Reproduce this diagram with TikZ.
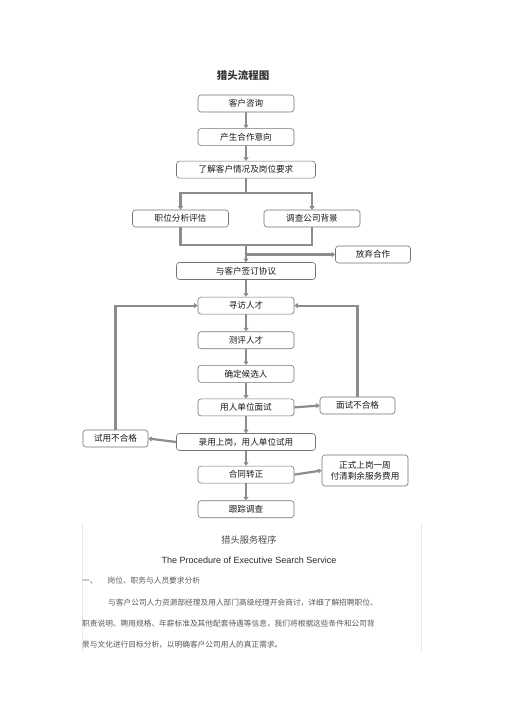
\documentclass[tikz,border=0pt]{standalone}
\usepackage{fontspec}
\setmainfont{Liberation Sans}
\newfontfamily\cjk{Noto Sans CJK SC}
\usepackage{tikz}
\usetikzlibrary{arrows.meta,positioning}

\begin{document}
\begin{tikzpicture}[
  x=1pt, y=-1pt,
  font=\cjk\fontsize{8.6}{10.5}\selectfont,
  box/.style={draw=black!55, line width=0.6pt, rounded corners=3pt, fill=white, text=black!90, align=center, minimum width=96pt, minimum height=17pt, inner sep=1pt},
  wbox/.style={box, minimum width=139pt},
  sbox/.style={box, minimum width=75pt},
  line/.style={draw=black!45, line width=2.2pt},
  flow/.style={line, -{Triangle[length=3.5pt,width=5pt]}}
]
  \useasboundingbox (0,0) rectangle (505,714);

  \node[font=\cjk\bfseries\fontsize{10.5}{12}\selectfont, text=black!80] (title) at (243,76) {猎头流程图};

  \node[box] (zx) at (246,103.5) {客户咨询};
  \node[box, below=16pt of zx] (yx) {产生合作意向};
  \node[wbox, below=15pt of yx] (yq) {了解客户情况及岗位要求};
  \node[box] (fx) at (180.5,218.5) {职位分析评估};
  \node[box] (dc) at (312,218.5) {调查公司背景};
  \node[wbox] (qy) at (246,271) {与客户签订协议};
  \node[sbox] (fq) at (373,254.5) {放弃合作};
  \node[box, below=17pt of qy] (xf) {寻访人才};
  \node[box, below=17pt of xf] (cp) {测评人才};
  \node[box, below=16pt of cp] (qd) {确定候选人};
  \node[box, below=16pt of qd] (ms) {用人单位面试};
  \node[sbox] (msb) at (357.5,405.5) {面试不合格};
  \node[wbox, below=17pt of ms] (ly) {录用上岗，用人单位试用};
  \node[sbox, minimum width=65pt] (syb) at (115.5,438.5) {试用不合格};
  \node[sbox, minimum width=86pt, minimum height=31pt] (fk) at (365,470.5) {正式上岗一周\\付清剩余服务费用};
  \node[box, below=15pt of ly] (zz) {合同转正};
  \node[box, below=17pt of zz] (gz) {跟踪调查};

  \coordinate (split) at (246,193);
  \coordinate (merge) at (246,245);
  \coordinate (giveup) at (246,254.5);

  \draw[flow] (zx) -- (yx);
  \draw[flow] (yx) -- (yq);
  \draw[line] (yq) -- (split);
  \draw[flow] (split) -| (fx);
  \draw[flow] (split) -| (dc);
  \draw[line] (fx) |- (merge);
  \draw[line] (dc) |- (merge);
  \draw[flow] (merge) -- (qy);
  \draw[flow] (giveup) -- (fq.west);
  \draw[flow] (qy) -- (xf);
  \draw[flow] (xf) -- (cp);
  \draw[flow] (cp) -- (qd);
  \draw[flow] (qd) -- (ms);
  \draw[flow] (ms.east) -- (msb.west);
  \draw[flow] (msb.north) |- (xf.east);
  \draw[flow] (ms) -- (ly);
  \draw[flow] (ly.west) -- (syb.east);
  \draw[flow] (syb.north) |- (xf.west);
  \draw[flow] (ly) -- (zz);
  \draw[flow] (zz.east) -- (fk.west);
  \draw[flow] (zz) -- (gz);

  % page below the chart
  \draw[black!8, line width=0.6pt] (82,523) -- (82,652);
  \draw[black!8, line width=0.6pt] (421,523) -- (421,652);
  \node[font=\cjk\fontsize{9.2}{11}\selectfont, text=black!70] (svc) at (249,540) {猎头服务程序};
  \node[font=\fontsize{9}{11}\selectfont, text=black!85] (eng) at (249,560) {The Procedure of Executive Search Service};
  \node[anchor=west, inner sep=0pt, font=\cjk\fontsize{7.7}{9}\selectfont, text=black!65] (sec) at (82,581) {一、\hspace{1.3em}岗位、职务与人员要求分析};
  \node[anchor=west, inner sep=0pt, font=\cjk\fontsize{7.7}{9}\selectfont, text=black!65] (p1) at (108,603) {与客户公司人力资源部经理及用人部门高级经理开会商讨，详细了解招聘职位、};
  \node[anchor=west, inner sep=0pt, font=\cjk\fontsize{7.7}{9}\selectfont, text=black!65] (p2) at (82,624) {职责说明、聘用规格、年薪标准及其他配套待遇等信息，我们将根据这些条件和公司背};
  \node[anchor=west, inner sep=0pt, font=\cjk\fontsize{7.7}{9}\selectfont, text=black!65] (p3) at (82,645) {景与文化进行目标分析，以明确客户公司用人的真正需求。};
\end{tikzpicture}
\end{document}
